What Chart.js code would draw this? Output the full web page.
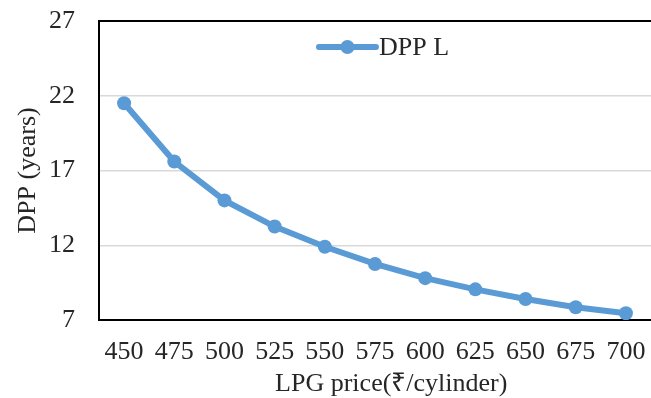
<!DOCTYPE html>
<html>
<head>
<meta charset="utf-8">
<script src="https://cdn.jsdelivr.net/npm/chart.js@4"></script>
<style>
  html, body { margin: 0; padding: 0; background: #fff; }
  #wrap { width: 651px; height: 398px; }
</style>
</head>
<body>
<div id="wrap"><canvas id="dppChart" width="651" height="398"></canvas></div>
<script>
const prices = ['450', '475', '500', '525', '550', '575', '600', '625', '650', '675', '700'];
const dppL = [21.5, 17.6, 15.0, 13.25, 11.9, 10.75, 9.8, 9.05, 8.4, 7.85, 7.45];
const yTicks = [7, 12, 17, 22, 27];

const FONT = 'Liberation Serif, Times New Roman, serif';
const FS = 26;
const TEXT = '#262626';
const BLUE = '#5b9bd5';

// frame: black top edge, grey right edge (Excel style)
const framePlugin = {
  id: 'frame',
  beforeDatasetsDraw(chart) {
    const a = chart.chartArea;
    const c = chart.ctx;
    c.save();
    c.lineWidth = 2;
    c.strokeStyle = '#000';
    c.beginPath();
    c.moveTo(a.left, a.top);
    c.lineTo(a.right, a.top);
    c.stroke();
    c.lineWidth = 1;
    c.strokeStyle = '#8c8c8c';
    c.beginPath();
    c.moveTo(a.right + 0.5, a.top);
    c.lineTo(a.right + 0.5, a.bottom);
    c.stroke();
    c.restore();
  }
};

// legend drawn inside the plot area, line + marker like the original
const legendPlugin = {
  id: 'innerLegend',
  afterDraw(chart) {
    const a = chart.chartArea;
    const c = chart.ctx;
    const label = chart.data.datasets[0].label;
    c.save();
    c.font = FS + 'px ' + FONT;
    const tw = c.measureText(label).width;
    const lineW = 57, gap = 3;
    const total = lineW + gap + tw;
    const x0 = (a.left + a.right) / 2 + 9 - total / 2;
    const y = a.top + 26;
    c.strokeStyle = BLUE;
    c.lineWidth = 6;
    c.lineCap = 'round';
    c.beginPath();
    c.moveTo(x0, y);
    c.lineTo(x0 + lineW, y);
    c.stroke();
    c.fillStyle = BLUE;
    c.beginPath();
    c.arc(x0 + lineW / 2, y, 7, 0, Math.PI * 2);
    c.fill();
    c.fillStyle = TEXT;
    c.textBaseline = 'middle';
    c.textAlign = 'left';
    c.fillText(label, x0 + lineW + gap, y + 1);
    c.restore();
  }
};

const ctx = document.getElementById('dppChart').getContext('2d');

const config = {
  type: 'line',
  data: {
    labels: prices,
    datasets: [{
      label: 'DPP L',
      data: dppL,
      borderColor: BLUE,
      backgroundColor: BLUE,
      borderWidth: 6,
      pointRadius: 7,
      pointBackgroundColor: BLUE,
      pointBorderWidth: 0,
      tension: 0
    }]
  },
  options: {
    responsive: false,
    animation: false,
    layout: { autoPadding: false, padding: { top: 21, right: 0, left: 0, bottom: 0 } },
    plugins: {
      legend: { display: false },
      tooltip: { enabled: false }
    },
    scales: {
      x: {
        offset: true,
        afterFit: (scale) => { scale.height = 78; scale.paddingLeft = 0; scale.paddingRight = 0; },
        grid: { display: true, drawOnChartArea: false, drawTicks: false },
        border: { color: '#000', width: 2 },
        ticks: { color: TEXT, padding: 17, font: { family: FONT, size: FS }, maxRotation: 0, autoSkip: false },
        title: {
          display: true,
          // leading spaces nudge the title right, as in the original
          text: '\u00a0\u00a0\u00a0\u00a0\u00a0LPG price(₹/cylinder)',
          color: TEXT,
          font: { family: FONT, size: FS },
          padding: { top: 0, bottom: -2 }
        }
      },
      y: {
        min: 7,
        max: 27,
        afterFit: (scale) => { scale.width = 99; scale.paddingTop = 0; scale.paddingBottom = 0; },
        afterBuildTicks: (scale) => { scale.ticks = yTicks.map(v => ({ value: v })); },
        grid: { color: '#d9d9d9', lineWidth: 1.5, drawTicks: false },
        border: { color: '#000', width: 2 },
        ticks: { color: TEXT, padding: 24, font: { family: FONT, size: FS } },
        title: {
          display: true,
          text: 'DPP (years)',
          color: TEXT,
          font: { family: FONT, size: FS },
          padding: { top: 13, bottom: 0 }
        }
      }
    }
  },
  plugins: [framePlugin, legendPlugin]
};

const chart = new Chart(ctx, config);
</script>
</body>
</html>
